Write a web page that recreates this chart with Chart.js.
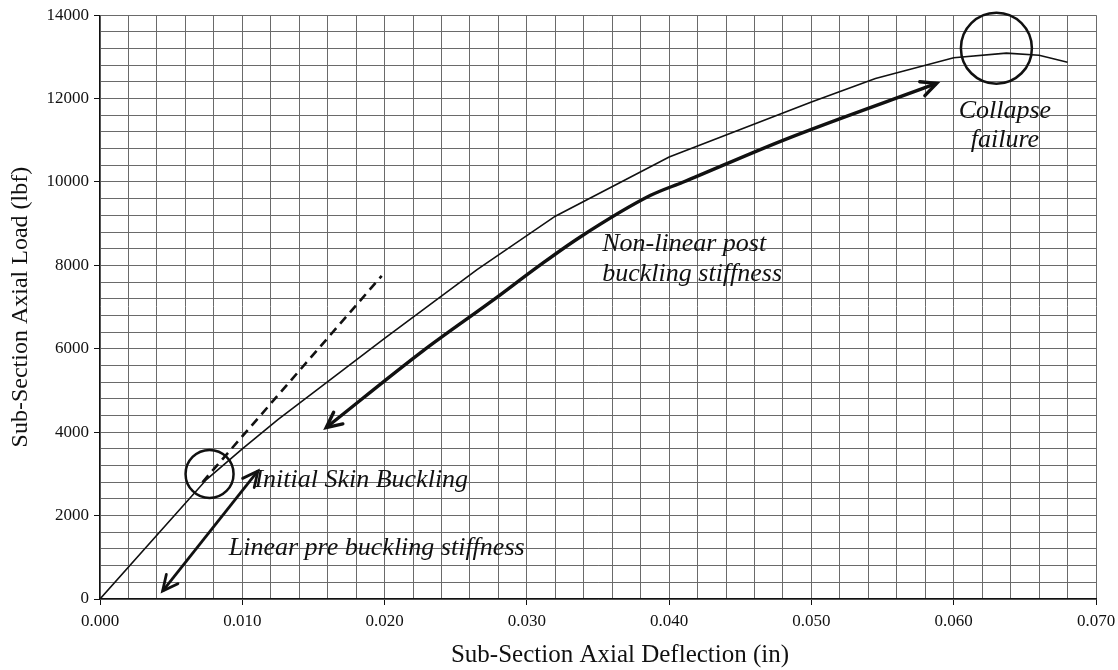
<!DOCTYPE html>
<html>
<head>
<meta charset="utf-8">
<script src="https://cdn.jsdelivr.net/npm/chart.js@4.4.1/dist/chart.umd.min.js"></script>
<style>
  html, body { margin: 0; padding: 0; background: #fff; }
  #wrap { width: 1118px; height: 670px; }
</style>
</head>
<body>
<div id="wrap"><canvas id="loadChart" width="1118" height="670"></canvas></div>
<script>
// measured load curve
const deflection = [0, 0.0075, 0.010, 0.0125, 0.020, 0.0265, 0.032, 0.040, 0.050, 0.0545, 0.060, 0.0637, 0.066, 0.068];
const load = [0, 2870, 3600, 4300, 6250, 7900, 9180, 10600, 11920, 12480, 12980, 13090, 13040, 12870];

// linear stiffness extension (dashed)
const linearX = [0.0072, 0.0198];
const linearY = [2800, 7750];

// post buckling arrow
const postX = [0.0159, 0.0227, 0.0276, 0.0309, 0.0337, 0.0387, 0.0410, 0.0480, 0.0588];
const postY = [4110, 5950, 7160, 8000, 8670, 9680, 10000, 11000, 12365];

// pre buckling double arrow
const preX = [0.0044, 0.0111];
const preY = [190, 3070];

// circled points
const circleX = [0.0077, 0.0630];
const circleY = [3000, 13210];

// tick labels
const xTickStep = 0.010;
const yTickStep = 2000;

function pts(xs, ys) {
  return xs.map((x, i) => ({ x: x, y: ys[i] }));
}

const serif = "'Liberation Serif', 'Times New Roman', serif";

const notes = [
  { text: "Initial Skin Buckling", x: 0.01085, y: 2860, align: "left" },
  { text: "Linear pre buckling stiffness", x: 0.00905, y: 1210, align: "left" },
  { text: "Non-linear post", x: 0.0353, y: 8500, align: "left" },
  { text: "buckling stiffness", x: 0.0353, y: 7780, align: "left" },
  { text: "Collapse", x: 0.0636, y: 11700, align: "center" },
  { text: "failure", x: 0.0636, y: 11000, align: "center" },
];

const annotate = {
  id: "annotate",
  afterDatasetsDraw(chart) {
    const ctx = chart.ctx;
    const xs = chart.scales.x;
    const ys = chart.scales.y;
    ctx.save();
    // arrowheads
    chart.data.datasets.forEach((ds, i) => {
      const el = chart.getDatasetMeta(i).data;
      if (ds.arrowEnd) head(ctx, el[el.length - 2], el[el.length - 1], ds.borderWidth);
      if (ds.arrowStart) head(ctx, el[1], el[0], ds.borderWidth);
    });
    // circles
    ctx.strokeStyle = "#111";
    ctx.lineWidth = 2.5;
    const radius = [24, 35.5];
    circleX.forEach((cx, i) => {
      ctx.beginPath();
      ctx.arc(xs.getPixelForValue(cx), ys.getPixelForValue(circleY[i]), radius[i], 0, Math.PI * 2);
      ctx.stroke();
    });
    // notes
    ctx.fillStyle = "#111";
    ctx.font = "italic 26px " + serif;
    ctx.textBaseline = "middle";
    notes.forEach(n => {
      ctx.textAlign = n.align;
      ctx.fillText(n.text, xs.getPixelForValue(n.x), ys.getPixelForValue(n.y));
    });
    ctx.restore();
  },
  afterDraw(chart) {
    const ctx = chart.ctx;
    ctx.save();
    ctx.fillStyle = "#111";
    ctx.font = "25px " + serif;
    ctx.textAlign = "center";
    ctx.textBaseline = "middle";
    ctx.fillText("Sub-Section Axial Deflection (in)", 620, 655);
    ctx.restore();
  }
};

function head(ctx, from, to, w) {
  const ang = Math.atan2(to.y - from.y, to.x - from.x);
  const len = 17;
  const spread = 0.45;
  ctx.strokeStyle = "#111";
  ctx.lineWidth = w;
  ctx.lineCap = "round";
  ctx.beginPath();
  ctx.moveTo(to.x - len * Math.cos(ang - spread), to.y - len * Math.sin(ang - spread));
  ctx.lineTo(to.x, to.y);
  ctx.lineTo(to.x - len * Math.cos(ang + spread), to.y - len * Math.sin(ang + spread));
  ctx.stroke();
}

function isMajor(v, step) {
  const r = v / step;
  return Math.abs(r - Math.round(r)) < 1e-6;
}

new Chart(document.getElementById("loadChart"), {
  type: "scatter",
  data: {
    datasets: [
      {
        data: pts(deflection, load),
        showLine: true,
        borderColor: "#111",
        borderWidth: 1.6,
        pointRadius: 0,
        tension: 0,
      },
      {
        data: pts(linearX, linearY),
        showLine: true,
        borderColor: "#111",
        borderWidth: 2.6,
        borderDash: [9, 6],
        pointRadius: 0,
      },
      {
        data: pts(postX, postY),
        showLine: true,
        borderColor: "#111",
        borderWidth: 3.4,
        pointRadius: 0,
        tension: 0.4,
        cubicInterpolationMode: "monotone",
        arrowStart: true,
        arrowEnd: true,
      },
      {
        data: pts(preX, preY),
        showLine: true,
        borderColor: "#111",
        borderWidth: 2.8,
        pointRadius: 0,
        arrowStart: true,
        arrowEnd: true,
      },
    ],
  },
  options: {
    responsive: false,
    animation: false,
    layout: { padding: { top: 15, right: 22, bottom: 0, left: 0 } },
    plugins: {
      legend: { display: false },
      tooltip: { enabled: false },
    },
    scales: {
      x: {
        type: "linear",
        min: 0,
        max: 0.07,
        afterFit(scale) {
          scale.height = 71;
          scale.paddingLeft = 0;
          scale.paddingRight = 0;
        },
        border: { color: "#111", width: 1.2 },
        grid: {
          color: "#6a6a6a",
          lineWidth: 1,
          tickLength: 6,
          tickColor: (c) => (c.tick && isMajor(c.tick.value, xTickStep) ? "#111" : "rgba(0,0,0,0)"),
        },
        ticks: {
          stepSize: 0.002,
          autoSkip: false,
          maxRotation: 0,
          padding: 6,
          color: "#111",
          font: { family: serif, size: 17 },
          callback: (v) => (isMajor(v, xTickStep) ? v.toFixed(3) : ""),
        },
      },
      y: {
        min: 0,
        max: 14000,
        afterFit(scale) { scale.width = 100; },
        border: { color: "#111", width: 1.2 },
        grid: {
          color: "#6a6a6a",
          lineWidth: 1,
          tickLength: 6,
          tickColor: (c) => (c.tick && isMajor(c.tick.value, yTickStep) ? "#111" : "rgba(0,0,0,0)"),
        },
        title: {
          display: true,
          text: "Sub-Section Axial Load (lbf)",
          color: "#111",
          font: { family: serif, size: 24 },
          padding: { top: 6, bottom: 4 },
        },
        ticks: {
          stepSize: 400,
          autoSkip: false,
          padding: 5,
          color: "#111",
          font: { family: serif, size: 17 },
          callback: (v) => (isMajor(v, yTickStep) ? String(v) : ""),
        },
      },
    },
  },
  plugins: [annotate],
});
</script>
</body>
</html>
